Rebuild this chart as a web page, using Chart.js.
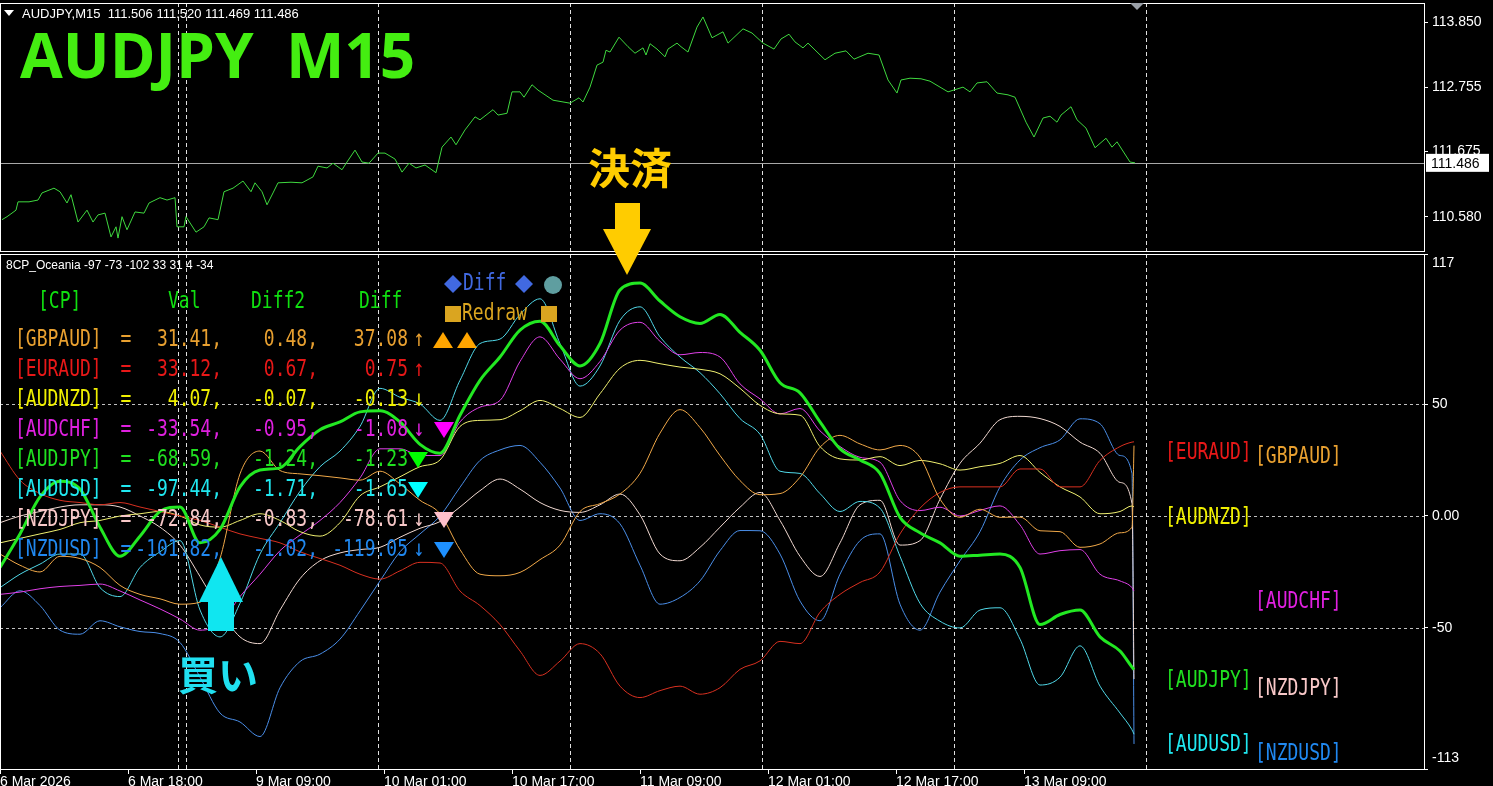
<!DOCTYPE html>
<html>
<head>
<meta charset="utf-8">
<script src="https://cdn.jsdelivr.net/npm/chart.js@4.4.1/dist/chart.umd.min.js"></script>
<style>
  html, body { margin: 0; padding: 0; background: #000; overflow: hidden; }
  #priceChart { position: absolute; left: 0; top: 0; }
  #cpChart { position: absolute; left: 0; top: 252px; }
</style>
</head>
<body>
<canvas id="priceChart" width="1493" height="252"></canvas>
<canvas id="cpChart" width="1493" height="534"></canvas>
<script>
// ---- data (x = M15 bar index from the left edge) ----
const timeTicks = [0, 64, 128, 192, 256, 320, 384, 448, 512];
const timeLabels = ['6 Mar 2026', '6 Mar 18:00', '9 Mar 09:00', '10 Mar 01:00', '10 Mar 17:00',
                    '11 Mar 09:00', '12 Mar 01:00', '12 Mar 17:00', '13 Mar 09:00'];
const separatorBars = [89, 93, 189, 285, 381, 477, 573];

// AUDJPY M15 close
const priceBars = [1,3.5,8,9,14.5,19,21,27,30,33.5,35.5,39,43.5,46.5,49,52.5,55.5,58,59,61,
  63.5,67.5,72,74.5,80,83.5,87.5,88.5,92,93,98,102,104.5,109,112,116.5,121.5,125.5,127.5,131,
  133.5,136.5,139,145.5,151,156.5,159,163.5,166.5,171,173.5,177.5,181,184.5,189,192.5,197.5,201,204.5,208,
  212.5,218,221,225.5,228,232.5,237.5,240,246.5,249,253.5,256,260,262,266,269,276.5,285,289.5,291.5,
  295,298.5,301.5,303,305,309.5,314,317.5,321.5,323,325,328.5,332.5,334,338.5,340.5,344,348.5,351.5,356,
  361.5,364,371.5,376,381.5,387,390.5,394.5,397.5,401.5,404,412.5,417.5,423,427,434,439.5,444,448.5,450.5,
  455,460.5,465,474,481.5,485,488.5,493.5,498.5,504,507.5,513,517,521.5,525,528.5,530.5,535.5,538.5,543,
  547.5,553,556,558.5,565,567.5];
const priceVals = [110.53,110.58,110.69,110.83,110.83,110.86,110.98,111.06,111.00,110.81,
  110.95,110.49,110.69,110.49,110.61,110.64,110.24,110.41,110.22,110.58,
  110.36,110.66,110.64,110.81,110.90,110.86,110.90,110.41,110.41,110.58,
  110.32,110.41,110.56,110.53,111.00,111.06,111.18,111.00,111.15,111.00,
  110.78,110.98,111.15,111.16,111.15,111.25,111.43,111.40,111.48,111.37,
  111.50,111.70,111.50,111.48,111.65,111.65,111.55,111.33,111.48,111.40,
  111.45,111.32,111.75,111.92,111.79,112.04,112.26,112.21,112.38,112.29,
  112.32,112.68,112.68,112.59,112.80,112.71,112.54,112.49,112.58,112.51,
  112.76,113.13,113.18,113.38,113.35,113.60,113.44,113.33,113.42,113.30,
  113.49,113.40,113.27,113.40,113.50,113.44,113.35,113.77,113.94,113.59,
  113.69,113.50,113.74,113.67,113.50,113.40,113.57,113.65,113.52,113.42,
  113.50,113.22,113.33,113.37,113.23,113.33,113.30,112.88,112.66,112.88,
  112.91,112.90,112.86,112.68,112.76,112.68,112.83,112.85,112.66,112.63,
  112.59,112.17,111.92,112.24,112.27,112.17,112.29,112.43,112.21,112.07,
  111.74,111.90,111.75,111.84,111.50,111.486];
const priceTicks = [113.850, 112.755, 111.675, 110.580];
const lastPrice = 111.486;

// 8CP_Oceania strength lines
const cpBars = [0,10,20,30,40,50,60,70,80,90,100,110,120,130,140,150,160,170,180,190,
  200,210,220,230,240,250,260,270,280,290,300,310,320,330,340,350,360,370,380,390,
  400,410,420,430,440,450,460,470,480,490,500,510,520,530,540,550,560,566,567];
const gbpaud = [-17,-22,-25,-18,-19,-23,-31,-35,-37,-39.4,-38.5,-19,18.8,29,20.3,18.8,18,17,16,20,
  14.3,7,1,-15,-26,-26.7,-25.2,-19.5,-13,2,5.5,9.8,19,37,47.5,39.5,27,15.8,9.5,10,
  17.3,30.7,36,32.2,29.5,31.5,26.2,7.5,-0.6,3,-0.6,-0.5,-6.6,-7,-14,-12.5,-7.5,-5,31.41];
const euraud = [29,16,10,7,6,5,6,4,2,0,-2,-5,-8,-10,-12,-16,-19,-22,-26,-28.2,
  -24.5,-20.7,-21,-33.5,-40,-48.5,-60.3,-71.2,-64.8,-57,-61.5,-76,-81.1,-78,-76,-79.6,-76.7,-68.5,-64.7,-56,
  -57,-43,-35,-29.7,-25,-8,3.5,10.5,13,13,13,21,21,13,13,24.8,31,33,33.12];
const audnzd = [-12,-10,-8,-6,-3,-2,0,1,2,0,-4,-5,-2,1,-2,-7,-9,-3,9,13,
  17.5,22,25,40,42.7,43,47,51.6,48,44,54.6,66,69.5,68,66.5,65.5,63.5,57,49.4,45.6,
  45,31,25.5,25,26.5,22.5,24.8,23.3,20.5,22,23.5,27,19.5,13,8.5,1,2,4.5,4.07];
const audchf = [-35,-34,-32.5,-31.5,-31,-30.4,-33.5,-37.5,-41.5,-46,-51,-48,-36,-26,-15.5,-8.5,-2,6,17,30,
  30,27,27,42,48.6,51.6,69,80,70,61.3,69,83,86.5,78,72,73,71,59,52.3,45.6,
  48,38,31,26.2,24,6.9,2.4,3.9,0,2.5,4.5,-4,-17,-15.5,-15,-26,-29,-32,-33.54];
const audjpy = [-23,-8,8.5,15.5,12,-5,-18,-9,2,4,-12,-6,13,20.5,21.5,31,38.5,42,46.5,47,
  42,32,28,45,60.6,71,83,87,76,67,77,101,104,96,89,86,90,82,74,59.5,
  55,42,30,25,19,-0.6,-7.5,-12,-18,-17.5,-17,-23,-48.5,-44,-42,-54,-60.3,-67.5,-68.59];
const audusd = [-32,-26,-21.5,-17,-17,-32,-36,-23,-16,-11,-42,-54,-39,-17,-3,11,22,29,40,57,
  53,50,42.7,60.6,77,79,90,97,77,58,67,87.4,93.4,80,71,64,54.6,43.5,36.5,20,
  19,10,2,6.5,3.5,-18,-39,-47,-50,-42,-41,-55,-75.5,-72,-58,-76,-88,-95.5,-97.44];
const nzdjpy = [-3,0,2,4,5,5,4,0,-5,-13,-27,-42,-54,-57,-42,-28,-20,-16.5,-15,-14,
  -9.5,-5.5,-2.5,4,11.3,16.5,12,6,2.5,1.6,5,9.8,0.5,-17,-20,-14,-5,3.9,10.5,-2,
  -18,-27,-12,5,7,-13,-11,7.5,23.5,32.5,43,44.5,43.5,40,33,28,15,5.5,-72.84];
const nzdusd = [-41,-33.4,-40,-51,-52.8,-46.8,-49.5,-51.6,-52.5,-56.5,-72,-88,-92,-98.5,-76.7,-65,-61.7,-55,-42.4,-29,
  -16,-8,0,12.8,24.8,29.5,31.5,24,12.5,-2,1,-3.5,-22,-39.4,-36.4,-29,-15.5,-6.5,-6.6,-17,
  -38,-46.8,-26,-11,-8,-39.4,-51,-34,-20,-7,13,25,30.5,34,43.4,41.2,27,19,-101.82];
const cpTicks = [117, 50, 0, -50, -113];
const cpTickLabels = ['117', '50', '0.00', '-50', '-113'];
const cpGrid = [50, 0, -50];

// table in the sub window
const pairs = ['GBPAUD', 'EURAUD', 'AUDNZD', 'AUDCHF', 'AUDJPY', 'AUDUSD', 'NZDJPY', 'NZDUSD'];
const tblVal = [31.41, 33.12, 4.07, -33.54, -68.59, -97.44, -72.84, -101.82];
const tblDiff2 = [0.48, 0.67, -0.07, -0.95, -1.24, -1.71, -0.83, -1.02];
const tblDiff = [37.08, 0.75, -0.13, -1.08, -1.23, -1.65, -78.61, -119.05];
const tblArrow = ['↑', '↑', '↓', '↓', '', '', '↓', '↓'];

const lineColors = ['#f0a848', '#d83020', '#f0f070', '#e040e8', '#22e822', '#50d8e8', '#f0d8d0', '#4a8ee8'];
const textColors = ['#e8a030', '#e81818', '#f0f000', '#e020e0', '#20e020', '#20e8f0', '#f8c8c8', '#2088f0'];
const cpSeries = [gbpaud, euraud, audnzd, audchf, audjpy, audusd, nzdjpy, nzdusd];

const X_MAX = 712;
const AXIS_FONT = '14px "Liberation Sans"';

// ---- helpers ----
function monoText(ctx, s, x, y, color, align) {
  ctx.save();
  ctx.font = '18px "DejaVu Sans Mono"';
  ctx.fillStyle = color;
  ctx.textAlign = align || 'left';
  ctx.textBaseline = 'middle';
  ctx.translate(x, y);
  ctx.scale(1, 1.3);
  ctx.fillText(s, 0, 0);
  ctx.restore();
}

function tri(ctx, x, y, up, color) {
  ctx.fillStyle = color;
  ctx.beginPath();
  if (up) { ctx.moveTo(x - 10, y + 8); ctx.lineTo(x + 10, y + 8); ctx.lineTo(x, y - 8); }
  else { ctx.moveTo(x - 10, y - 8); ctx.lineTo(x + 10, y - 8); ctx.lineTo(x, y + 8); }
  ctx.closePath();
  ctx.fill();
}

function drawSeparators(chart) {
  const { ctx, chartArea: a, scales } = chart;
  ctx.save();
  ctx.strokeStyle = '#e0e0e0';
  ctx.lineWidth = 1;
  ctx.setLineDash([4, 3]);
  separatorBars.forEach(b => {
    const x = Math.round(scales.x.getPixelForValue(b)) + 0.5;
    ctx.beginPath(); ctx.moveTo(x, a.top); ctx.lineTo(x, a.bottom); ctx.stroke();
  });
  ctx.restore();
}

function drawBorder(chart) {
  const { ctx, chartArea: a } = chart;
  ctx.save();
  ctx.strokeStyle = '#ffffff';
  ctx.lineWidth = 1;
  ctx.strokeRect(0.5, a.top + 0.5, a.right, a.bottom - a.top);
  ctx.restore();
}

// exit arrow crosses both windows, so each chart draws it in page coordinates
function exitArrow(ctx) {
  ctx.fillStyle = '#ffcc00';
  ctx.fillRect(615, 203, 25, 30);
  ctx.beginPath();
  ctx.moveTo(603, 229); ctx.lineTo(651, 229); ctx.lineTo(627, 275);
  ctx.closePath(); ctx.fill();
}

// ---- main window ----
const pricePlugin = {
  id: 'priceDecor',
  beforeDatasetsDraw(chart) {
    const { ctx, chartArea: a, scales } = chart;
    drawSeparators(chart);
    const y = Math.round(scales.y.getPixelForValue(lastPrice)) + 0.5;
    ctx.save();
    ctx.strokeStyle = '#a8a8a8';
    ctx.lineWidth = 1;
    ctx.beginPath(); ctx.moveTo(a.left, y); ctx.lineTo(a.right, y); ctx.stroke();
    ctx.restore();
  },
  afterDraw(chart) {
    const { ctx, chartArea: a, scales } = chart;
    drawBorder(chart);
    ctx.save();
    // y labels
    ctx.font = AXIS_FONT;
    ctx.fillStyle = '#ffffff';
    ctx.textBaseline = 'middle';
    ctx.textAlign = 'left';
    priceTicks.forEach(v => ctx.fillText(v.toFixed(3), a.right + 8, scales.y.getPixelForValue(v)));
    const py = scales.y.getPixelForValue(lastPrice);
    ctx.fillRect(a.right + 2, py - 9, 63, 18);
    ctx.fillStyle = '#000000';
    ctx.fillText(lastPrice.toFixed(3), a.right + 7, py + 1);
    // header
    ctx.fillStyle = '#ffffff';
    ctx.beginPath(); ctx.moveTo(4, 10); ctx.lineTo(14, 10); ctx.lineTo(9, 16); ctx.closePath(); ctx.fill();
    ctx.font = '13px "Liberation Sans"';
    ctx.fillText('AUDJPY,M15  111.506 111.520 111.469 111.486', 22, 14);
    // shift marker
    ctx.fillStyle = '#9aa0a8';
    ctx.beginPath(); ctx.moveTo(1130, 3); ctx.lineTo(1144, 3); ctx.lineTo(1137, 10); ctx.closePath(); ctx.fill();
    // title
    ctx.fillStyle = '#44ee11';
    ctx.textBaseline = 'alphabetic';
    ctx.font = 'bold 62px "Open Sans"';
    ctx.fillText('AUDJPY  M15', 20, 78, 398);
    // exit note
    ctx.fillStyle = '#ffcc00';
    ctx.textBaseline = 'middle';
    ctx.font = 'bold 42px "Noto Sans CJK JP"';
    ctx.fillText('決済', 588, 168);
    exitArrow(ctx);
    ctx.restore();
  }
};

new Chart(document.getElementById('priceChart'), {
  type: 'line',
  data: {
    datasets: [{
      label: 'AUDJPY',
      data: priceBars.map((b, i) => ({ x: b, y: priceVals[i] })),
      borderColor: '#3fd83f',
      borderWidth: 1,
      pointRadius: 0,
      tension: 0
    }]
  },
  options: {
    responsive: false,
    animation: false,
    devicePixelRatio: 1,
    layout: { padding: { top: 3, bottom: 1, left: 0, right: 0 } },
    plugins: { legend: { display: false }, tooltip: { enabled: false } },
    scales: {
      x: { type: 'linear', min: 0, max: X_MAX, display: false },
      y: {
        position: 'right', min: 110.003, max: 114.175,
        afterBuildTicks: s => { s.ticks = priceTicks.map(v => ({ value: v })); },
        afterFit: s => { s.width = 69; },
        ticks: { display: false },
        grid: { drawOnChartArea: false, drawTicks: true, tickLength: 4, tickColor: '#ffffff' },
        border: { display: false }
      }
    }
  },
  plugins: [pricePlugin]
});

// ---- 8CP_Oceania sub window ----
const cpPlugin = {
  id: 'cpDecor',
  beforeDatasetsDraw(chart) {
    const { ctx, chartArea: a, scales } = chart;
    ctx.save();
    ctx.strokeStyle = '#c0c0c0';
    ctx.lineWidth = 1;
    ctx.setLineDash([3, 3]);
    cpGrid.forEach(v => {
      const y = Math.round(scales.y.getPixelForValue(v)) + 0.5;
      ctx.beginPath(); ctx.moveTo(a.left, y); ctx.lineTo(a.right, y); ctx.stroke();
    });
    ctx.restore();
    drawSeparators(chart);
  },
  afterDraw(chart) {
    const { ctx, chartArea: a, scales } = chart;
    drawBorder(chart);
    ctx.save();
    // y labels (end labels kept inside the window)
    ctx.font = AXIS_FONT;
    ctx.fillStyle = '#ffffff';
    ctx.textBaseline = 'middle';
    cpTicks.forEach((v, i) => {
      let y = scales.y.getPixelForValue(v);
      if (i === 0) y += 9;
      if (i === cpTicks.length - 1) y -= 11;
      ctx.fillText(cpTickLabels[i], a.right + 8, y);
    });

    ctx.translate(0, -252); // page coordinates from here
    ctx.font = '12px "Liberation Sans"';
    ctx.fillStyle = '#ffffff';
    ctx.fillText('8CP_Oceania -97 -73 -102 33 31 4 -34', 6, 266);

    // table
    const hdr = '#10e010';
    monoText(ctx, '[CP]', 38, 302, hdr);
    monoText(ctx, 'Val', 168, 302, hdr);
    monoText(ctx, 'Diff2', 251, 302, hdr);
    monoText(ctx, 'Diff', 359, 302, hdr);
    pairs.forEach((p, i) => {
      const y = 340 + i * 30;
      const c = textColors[i];
      monoText(ctx, '[' + p + ']', 15, y, c);
      monoText(ctx, '=', 126, y, c, 'center');
      monoText(ctx, tblVal[i].toFixed(2) + ',', 222, y, c, 'right');
      monoText(ctx, tblDiff2[i].toFixed(2) + ',', 318, y, c, 'right');
      monoText(ctx, tblDiff[i].toFixed(2), 408, y, c, 'right');
      if (tblArrow[i]) monoText(ctx, tblArrow[i], 419, y, c, 'center');
    });
    tri(ctx, 443, 340, true, '#ffa500');
    tri(ctx, 467, 340, true, '#ffa500');
    tri(ctx, 444, 430, false, '#ff00ff');
    tri(ctx, 418, 460, false, '#00ff00');
    tri(ctx, 418, 490, false, '#00ffff');
    tri(ctx, 444, 520, false, '#ffc0cb');
    tri(ctx, 444, 550, false, '#1e90ff');

    // button legend
    const blue = '#4169e1';
    const diamond = (x, y) => {
      ctx.fillStyle = blue;
      ctx.beginPath(); ctx.moveTo(x, y - 9); ctx.lineTo(x + 9, y); ctx.lineTo(x, y + 9); ctx.lineTo(x - 9, y);
      ctx.closePath(); ctx.fill();
    };
    diamond(453, 284);
    monoText(ctx, 'Diff', 463, 284, blue);
    diamond(524, 284);
    ctx.fillStyle = '#5f9ea0';
    ctx.beginPath(); ctx.arc(553, 285, 9, 0, Math.PI * 2); ctx.fill();
    ctx.fillStyle = '#daa520';
    ctx.fillRect(445, 306, 16, 16);
    monoText(ctx, 'Redraw', 462, 314, '#daa520');
    ctx.fillStyle = '#daa520';
    ctx.fillRect(541, 306, 16, 16);

    // right side labels, in pairs order
    const rl = [[1255, 457], [1165, 453], [1165, 518], [1255, 602], [1165, 681], [1165, 745], [1255, 689], [1255, 754]];
    pairs.forEach((p, i) => monoText(ctx, '[' + p + ']', rl[i][0], rl[i][1], textColors[i]));

    // entry note
    ctx.fillStyle = '#10e6f0';
    ctx.beginPath(); ctx.moveTo(199, 602); ctx.lineTo(243, 602); ctx.lineTo(221, 557); ctx.closePath(); ctx.fill();
    ctx.fillRect(208, 600, 26, 31);
    ctx.fillStyle = '#20e0f0';
    ctx.font = 'bold 40px "Noto Sans CJK JP"';
    ctx.textBaseline = 'middle';
    ctx.textAlign = 'left';
    ctx.fillText('買い', 178, 675);
    exitArrow(ctx);
    ctx.restore();
  }
};

new Chart(document.getElementById('cpChart'), {
  type: 'line',
  data: {
    datasets: pairs.map((p, i) => ({
      label: p,
      data: cpBars.map((b, k) => ({ x: b, y: cpSeries[i][k] })),
      borderColor: lineColors[i],
      borderWidth: p === 'AUDJPY' ? 3 : 1,
      pointRadius: 0,
      cubicInterpolationMode: 'monotone',
      order: p === 'AUDJPY' ? 0 : 1
    }))
  },
  options: {
    responsive: false,
    animation: false,
    devicePixelRatio: 1,
    layout: { padding: { top: 2, bottom: 0, left: 0, right: 0 } },
    plugins: { legend: { display: false }, tooltip: { enabled: false } },
    scales: {
      x: {
        type: 'linear', min: 0, max: X_MAX,
        afterBuildTicks: s => { s.ticks = timeTicks.map(v => ({ value: v })); },
        afterFit: s => { s.height = 17; },
        ticks: {
          color: '#ffffff', font: { family: 'Liberation Sans', size: 14 },
          align: 'start', autoSkip: false, maxRotation: 0, padding: 0,
          callback: (v, i) => timeLabels[i]
        },
        grid: { drawOnChartArea: false, drawTicks: true, tickLength: 5, tickColor: '#ffffff' },
        border: { display: false }
      },
      y: {
        position: 'right', min: -113, max: 117,
        afterBuildTicks: s => { s.ticks = cpTicks.map(v => ({ value: v })); },
        afterFit: s => { s.width = 69; },
        ticks: { display: false },
        grid: { drawOnChartArea: false, drawTicks: true, tickLength: 4, tickColor: '#ffffff' },
        border: { display: false }
      }
    }
  },
  plugins: [cpPlugin]
});
</script>
</body>
</html>
